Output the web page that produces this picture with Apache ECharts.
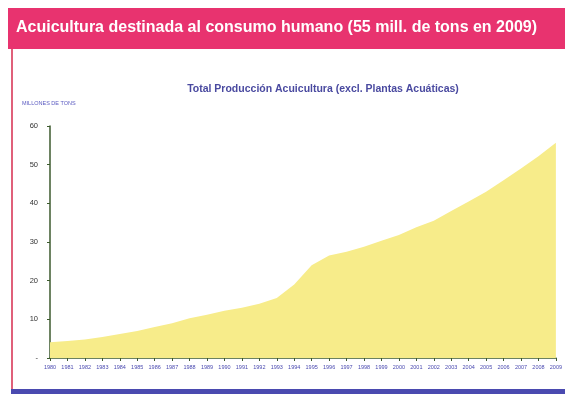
<!DOCTYPE html>
<html>
<head>
<meta charset="utf-8">
<style>
  html, body { margin: 0; padding: 0; background: #ffffff; }
  #chart { width: 565px; height: 394px; }
</style>
<script src="https://cdn.jsdelivr.net/npm/echarts@6/dist/echarts.min.js"></script>
</head>
<body>
<div id="chart"></div>
<script>
// Aquaculture production, million tonnes (excluding aquatic plants)
const years = ['1980','1981','1982','1983','1984','1985','1986','1987','1988','1989',
               '1990','1991','1992','1993','1994','1995','1996','1997','1998','1999',
               '2000','2001','2002','2003','2004','2005','2006','2007','2008','2009'];
const production = [4.1, 4.4, 4.8, 5.4, 6.2, 7.0, 8.0, 9.0, 10.3, 11.2,
                    12.2, 13.0, 14.0, 15.5, 19.0, 24.0, 26.5, 27.5, 28.8, 30.3,
                    31.8, 33.8, 35.5, 38.0, 40.5, 43.0, 46.0, 49.0, 52.2, 55.7];
const yTicks = [0, 10, 20, 30, 40, 50, 60];

const headerText = 'Acuicultura destinada al consumo humano (55 mill. de tons en 2009)';
const chartTitle = 'Total Producción Acuicultura (excl. Plantas Acuáticas)';
const yAxisTitle = 'MILLONES DE TONS';

const chart = echarts.init(document.getElementById('chart'), null, { renderer: 'canvas' });

chart.setOption({
  backgroundColor: '#ffffff',
  animation: false,
  title: {
    text: chartTitle,
    left: 318,
    top: 79,
    textAlign: 'center',
    textStyle: { fontFamily: 'Liberation Sans, Arial, sans-serif', fontSize: 10.5, fontWeight: 'bold', color: '#4a4aa0' }
  },
  grid: { left: 50, right: 8, top: 126, bottom: 36 },
  xAxis: {
    type: 'category',
    data: years,
    boundaryGap: false,
    axisLine: { lineStyle: { color: '#3d5a2e', width: 1.5 } },
    axisTick: { show: true, length: 3, interval: 0, lineStyle: { color: '#3d5a2e' } },
    axisLabel: { interval: 0, fontSize: 5.5, color: '#4a4ab0', margin: 6, fontFamily: 'Liberation Sans, Arial, sans-serif' }
  },
  yAxis: {
    type: 'value',
    min: yTicks[0],
    max: yTicks[yTicks.length - 1],
    interval: yTicks[1] - yTicks[0],
    name: yAxisTitle,
    nameLocation: 'end',
    nameGap: 20,
    nameTextStyle: { fontSize: 5.5, color: '#5a5ac0', align: 'left', padding: [0, 0, 0, -28], fontFamily: 'Liberation Sans, Arial, sans-serif' },
    axisLine: { show: true, lineStyle: { color: '#3d5a2e', width: 1.5 } },
    axisTick: { show: true, length: 3, lineStyle: { color: '#3d5a2e' } },
    splitLine: { show: false },
    axisLabel: {
      fontSize: 7.5, color: '#333333', margin: 12,
      formatter: v => (v === 0 ? '-' : String(v)),
      fontFamily: 'Liberation Sans, Arial, sans-serif'
    }
  },
  series: [{
    type: 'line',
    data: production,
    symbol: 'none',
    lineStyle: { width: 0 },
    areaStyle: { color: '#f7ec8a', opacity: 1 },
    silent: true
  }],
  graphic: [
    // header band
    { type: 'rect', shape: { x: 8, y: 8, width: 557, height: 41 }, style: { fill: '#e8336f' }, z: 10 },
    {
      type: 'text', left: 16, top: 20, z: 11,
      style: { text: headerText, fill: '#ffffff', font: 'bold 16px "Liberation Sans", Arial, sans-serif' }
    },
    // frame: left edge and bottom bar
    { type: 'rect', shape: { x: 11, y: 49, width: 2, height: 340 }, style: { fill: '#e0607a' }, z: 10 },
    { type: 'rect', shape: { x: 11, y: 389, width: 554, height: 5 }, style: { fill: '#4a4ab0' }, z: 10 }
  ]
});
</script>
</body>
</html>
